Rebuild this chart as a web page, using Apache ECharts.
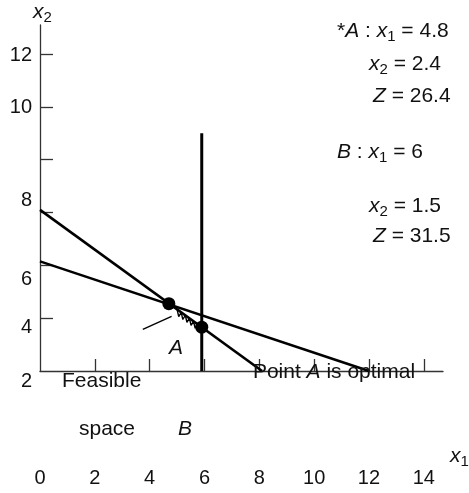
<!DOCTYPE html>
<html>
<head>
<meta charset="utf-8">
<script src="https://cdn.jsdelivr.net/npm/echarts@6/dist/echarts.min.js"></script>
<style>
html,body{margin:0;padding:0;background:#fff;}
#chart{width:469px;height:493px;}
</style>
</head>
<body>
<div id="chart"></div>
<script>
// ---- data ----
const xTickValues = [2, 4, 6, 8, 10, 12, 14];
const xLabelValues = [0, 2, 4, 6, 8, 10, 12, 14];
const yTickValues = [4, 6, 8, 10, 12, 14];
const yLabelValues = [2, 4, 6, 8, 10, 12, 14];
const yLabelTexts = ['2', '4', '6', '8', '', '10', '12'];
const constraint1 = [[0, 8.1], [8.1, 2]];
const constraint2 = [[0, 6.15], [12, 2]];
const constraint3 = [[5.9, 2], [5.9, 11]];
const cornerPoints = [[4.7, 4.55], [5.9, 3.66]];
const pointerLine = [[3.75, 3.58], [4.8, 4.07]];
const hatchLine = [[5.00, 4.33], [5.06, 4.06], [5.15, 4.22], [5.21, 3.95], [5.30, 4.11], [5.36, 3.84],
                   [5.45, 4.00], [5.51, 3.73], [5.60, 3.88], [5.66, 3.62], [5.75, 3.77]];

// ---- styling ----
const FONT = '"Liberation Sans", Arial, Helvetica, sans-serif';
const FS = 20;
const TFS = 21;
const yLabelShift = [10, 9, 14, -12, 0, 1, 1]; // vertical nudges (px) of y labels
const yRich = {};
yLabelShift.forEach((d, i) => {
  yRich['o' + i] = {
    fontFamily: FONT, fontSize: FS, color: '#111',
    padding: d >= 0 ? [2 * d, 0, 0, 0] : [0, 0, -2 * d, 0]
  };
});
const textRich = {
  n: {fontFamily: FONT, fontSize: TFS, color: '#111', lineHeight: 25},
  i: {fontFamily: FONT, fontSize: TFS, fontStyle: 'italic', color: '#111', lineHeight: 25},
  s: {fontFamily: FONT, fontSize: 15, color: '#111', lineHeight: 25, padding: [12, 0, 0, 0]}
};
function txt(text, x, y, align) {
  return {
    type: 'text', x: x, y: y, z: 100,
    style: {text: text, rich: textRich, align: align || 'left', verticalAlign: 'middle',
            textAlign: align || 'left', textVerticalAlign: 'middle',
            font: TFS + 'px ' + FONT, fill: '#111'}
  };
}

const chart = echarts.init(document.getElementById('chart'), null, {renderer: 'canvas'});
const axisCol = '#333';
const option = {
  animation: false,
  backgroundColor: '#fff',
  grid: {left: 40, top: 25, right: 26, bottom: 122, containLabel: false},
  xAxis: {
    type: 'value', min: 0, max: 14.7,
    splitLine: {show: false},
    axisLine: {show: true, onZero: false, lineStyle: {color: axisCol, width: 1.3}},
    axisTick: {show: true, inside: true, length: 12, customValues: xTickValues,
               lineStyle: {color: axisCol, width: 1.3}},
    axisLabel: {show: true, margin: 97, customValues: xLabelValues,
                fontFamily: FONT, fontSize: FS, color: '#111'}
  },
  yAxis: {
    type: 'value', min: 2, max: 15.1,
    splitLine: {show: false},
    axisLine: {show: true, onZero: false, lineStyle: {color: axisCol, width: 1.3}},
    axisTick: {show: true, inside: true, length: 13, customValues: yTickValues,
               lineStyle: {color: axisCol, width: 1.3}},
    axisLabel: {
      show: true, margin: 8, customValues: yLabelValues,
      fontFamily: FONT, fontSize: FS, color: '#111',
      formatter: function (v) {
        const i = yLabelValues.indexOf(Math.round(v));
        if (i < 0 || !yLabelTexts[i]) return '';
        return '{o' + i + '|' + yLabelTexts[i] + '}';
      },
      rich: yRich
    }
  },
  series: [
    {type: 'line', data: constraint1, symbol: 'none', lineStyle: {color: '#000', width: 2.6}, z: 5},
    {type: 'line', data: constraint2, symbol: 'none', lineStyle: {color: '#000', width: 2.6}, z: 5},
    {type: 'line', data: constraint3, symbol: 'none', lineStyle: {color: '#000', width: 3}, z: 5},
    {type: 'line', data: pointerLine, symbol: 'none', lineStyle: {color: '#000', width: 1.4}, z: 5},
    {type: 'line', data: hatchLine, symbol: 'none', lineStyle: {color: '#000', width: 1.4}, z: 5},
    {type: 'scatter', data: cornerPoints, symbol: 'circle', symbolSize: 13,
     itemStyle: {color: '#000', opacity: 1}, z: 6}
  ],
  graphic: [
    txt('{i|x}{s|2}', 33, 12),
    txt('{i|x}{s|1}', 450, 456),
    txt('{n|*}{i|A}{n| : }{i|x}{s|1}{n| = 4.8}', 337, 31),
    txt('{i|x}{s|2}{n| = 2.4}', 369, 64),
    txt('{i|Z}{n| = 26.4}', 373, 96),
    txt('{i|B}{n| : }{i|x}{s|1}{n| = 6}', 337, 152),
    txt('{i|x}{s|2}{n| = 1.5}', 369, 206),
    txt('{i|Z}{n| = 31.5}', 373, 236),
    txt('{i|A}', 176, 348, 'center'),
    txt('{n|Feasible}', 62, 381),
    txt('{n|space}', 79, 429),
    txt('{i|B}', 185, 429, 'center'),
    txt('{n|Point }{i|A}{n| is optimal}', 334, 372, 'center')
  ]
};
chart.setOption(option);
</script>
</body>
</html>
